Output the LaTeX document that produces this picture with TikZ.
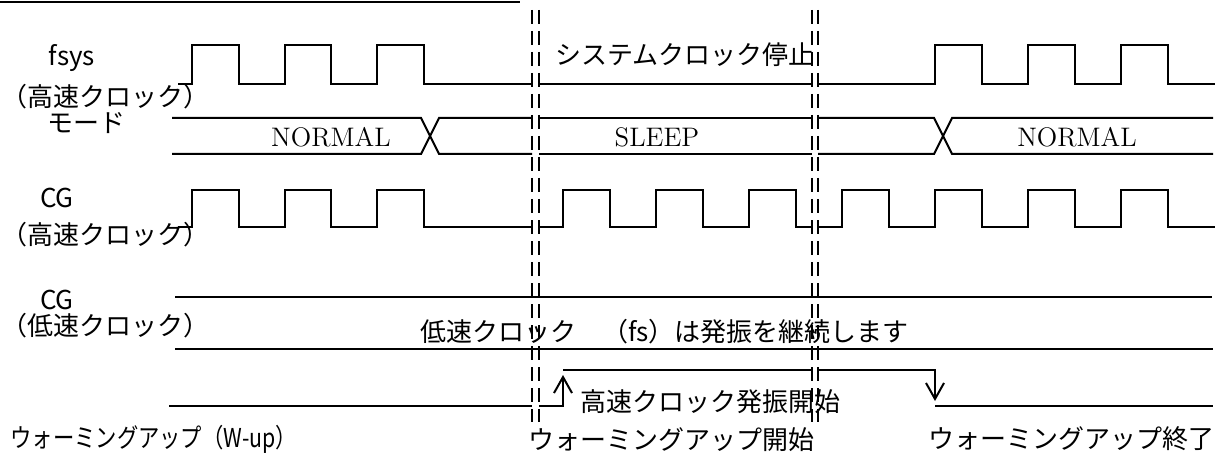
\documentclass[tikz,border=0pt]{standalone}
\usepackage{fontspec}
\newfontfamily\jp{Noto Sans CJK JP}
\usetikzlibrary{arrows.meta}
\tikzset{
  sig/.style={line width=1pt},
  brk/.style={line width=1pt, dash pattern=on 7pt off 3.5pt},
  lbl/.style={font=\jp\fontsize{13}{15}\selectfont, inner sep=0pt},
  modetext/.style={font=\fontsize{13.4}{16}\selectfont, inner sep=0pt},
  tip/.style={-{Straight Barb[length=8pt,width=9pt]}}
}
\begin{document}
\begin{tikzpicture}[x=0.5pt,y=-0.5pt]
  \useasboundingbox (0,0) rectangle (1224,454);
  % labels on the left
  \node[lbl] (fsys) at (72,58) {fsys};
  \node[lbl, anchor=west] (fsyshi) at (1,97) {（高速クロック）};
  \node[lbl] (mode) at (86,123) {モード};
  \node[lbl] (cghi) at (57,198) {CG};
  \node[lbl, anchor=west] (cghik) at (1,235) {（高速クロック）};
  \node[lbl] (cglo) at (57,300) {CG};
  \node[lbl, anchor=west] (cglok) at (1,326) {（低速クロック）};
  \node[lbl, anchor=west] (wup) at (10,439) {\scalebox{0.82}[1]{ウォーミングアップ（W-up）}};
  % texts in the chart
  \node[lbl, anchor=west] (stop) at (555,55) {システムクロック停止};
  \node[lbl, anchor=west] (fs) at (420,332) {低速クロック　（fs）は発振を継続します};
  \node[lbl, anchor=west] (osc) at (580,402) {高速クロック発振開始};
  \node[lbl, anchor=west] (wstart) at (528,440) {ウォーミングアップ開始};
  \node[lbl, anchor=west] (wend) at (928,439) {ウォーミングアップ終了};
  \node[modetext] (normal1) at (331,137) {NORMAL};
  \node[modetext] (sleep) at (657,137) {SLEEP};
  \node[modetext] (normal2) at (1077,137) {NORMAL};
  % header rule
  \draw[sig] (0,2) -- (520,2);
  % breaks
  \foreach \x in {532,539,812,818}
    \draw[brk] (\x,10) -- (\x,422);
  % fsys
  \draw[sig] (178,84) \foreach \x in {192,284.5,377} {-- (\x,84) -- (\x,45) -- ({\x+46.5},45) -- ({\x+46.5},84)} -- (532,84);
  \draw[sig] (539,84) -- (812,84);
  \draw[sig] (818,84) \foreach \x in {935,1028,1121} {-- (\x,84) -- (\x,45) -- ({\x+46.5},45) -- ({\x+46.5},84)} -- (1215,84);
  % mode
  \draw[sig] (172,118) -- (421,118) -- (439,154) -- (532,154);
  \draw[sig] (172,154) -- (421,154) -- (439,118) -- (532,118);
  \draw[sig] (539,118) -- (812,118) (539,154) -- (812,154);
  \draw[sig] (818,118) -- (934,118) -- (952,154) -- (1213,154);
  \draw[sig] (818,154) -- (934,154) -- (952,118) -- (1213,118);
  % CG high speed
  \draw[sig] (178,227) \foreach \x in {192,284.5,377} {-- (\x,227) -- (\x,190) -- ({\x+46.5},190) -- ({\x+46.5},227)} -- (532,227);
  \draw[sig] (539,227) \foreach \x in {563,656,749} {-- (\x,227) -- (\x,190) -- ({\x+46.5},190) -- ({\x+46.5},227)} -- (812,227);
  \draw[sig] (818,227) \foreach \x in {842,935,1028,1121} {-- (\x,227) -- (\x,190) -- ({\x+46.5},190) -- ({\x+46.5},227)} -- (1215,227);
  % CG low speed
  \draw[sig] (175,297) -- (1212,297);
  \draw[sig] (175,349) -- (1213,349);
  % warming up
  \draw[sig] (169,406) -- (532,406);
  \draw[sig,tip] (539,406) -- (563,406) -- (563,375);
  \draw[sig] (563,370) -- (812,370);
  \draw[sig,tip] (818,370) -- (935,370) -- (935,401);
  \draw[sig] (935,406) -- (1213,406);
\end{tikzpicture}
\end{document}
